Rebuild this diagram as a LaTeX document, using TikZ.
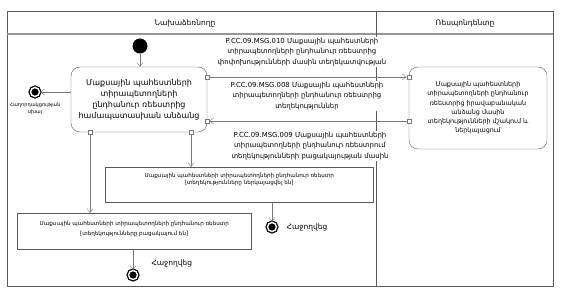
\documentclass[tikz,border=0pt]{standalone}
\usepackage{fontspec}
\setmainfont{DejaVu Sans}
\usetikzlibrary{arrows.meta,positioning}
\definecolor{lanegray}{RGB}{150,150,150}
\definecolor{flowgray}{RGB}{120,120,120}
\definecolor{boxgray}{RGB}{90,90,90}

\begin{document}
\begin{tikzpicture}[
  x=1pt, y=-1pt,
  actbox/.style={
    draw=boxgray, rounded corners=9pt, fill=white, align=center,
    inner sep=1pt, font=\fontsize{8}{11}\selectfont
  },
  statebox/.style={draw=boxgray, fill=white, anchor=north west, inner sep=0pt},
  statetext/.style={align=center, inner sep=0pt, anchor=north, font=\fontsize{5.6}{7.5}\selectfont},
  msg/.style={fill=white, align=center, inner sep=1pt, font=\fontsize{6.9}{10.5}\selectfont},
  port/.style={draw=flowgray, fill=white, minimum size=4pt, inner sep=0pt},
  initnode/.style={circle, fill=black, minimum size=15pt, inner sep=0pt},
  finalnode/.style={circle, fill=black, draw=black, double=white, double distance=1.4pt,
    line width=1.3pt, minimum size=9pt, inner sep=0pt},
  flow/.style={-{Straight Barb[length=4pt,width=6pt]}, flowgray, thin},
  lbl/.style={font=\fontsize{7.5}{9}\selectfont}
]
  \useasboundingbox (0,0) rectangle (564,296);

  % swimlanes
  \draw[boxgray, thin] (7,11) rectangle (553,286);
  \draw[lanegray, line width=1.5pt] (7,34) -- (553,34);
  \draw[boxgray, thin] (376,11) -- (376,286);
  \node[font=\fontsize{7.5}{9}\selectfont] (lanei) at (185,23) {Նախաձեռնողը};
  \node[font=\fontsize{7.5}{9}\selectfont] (laner) at (465,23) {Ռեսպոնդենտը};

  % activities
  \node[initnode] (init) at (140,46) {};
  \node[actbox, minimum width=136pt, minimum height=65pt] (main) at (139,99.5)
    {Մաքսային պահեստների\\ տիրապետողների\\ ընդհանուր ռեեստրից\\ համապատասխան անձանց};
  \node[actbox, minimum width=138pt, minimum height=82pt,
    font=\fontsize{6.4}{9.2}\selectfont] (resp) at (478,108)
    {Մաքսային պահեստների\\ տիրապետողների ընդհանուր\\ ռեեստրից իրավաբանական\\ անձանց մասին\\ տեղեկությունների մշակում և\\ ներկայացում};

  % end states
  \node[finalnode] (err) at (35,92) {};
  \node[below=2pt of err, align=center, font=\fontsize{5}{7.5}\selectfont] (errl) {Հաղորդակցության\\ սխալ};

  \node[statebox, minimum width=268pt, minimum height=35pt] (succ) at (105,167) {};
  \node[statetext, below=6pt of succ.north] (succt)
    {Մաքսային պահեստների տիրապետողների ընդհանուր ռեեստր\\ {[տեղեկությունները ներկայացվել են]}};
  \node[statebox, minimum width=234pt, minimum height=36pt] (fail) at (17,213) {};
  \node[statetext, below=8pt of fail.north, font=\fontsize{5.6}{10}\selectfont] (failt)
    {Մաքսային պահեստների տիրապետողների ընդհանուր ռեեստր\\ {[տեղեկությունները բացակայում են]}};

  \node[finalnode] (ends) at (272,227) {};
  \node[lbl, right=6pt of ends] (endsl) {Հաջողվեց};
  \node[finalnode] (endf) at (133,275) {};
  \node[lbl, anchor=west] (endfl) at (148,263) {Հաջողվեց};

  % ports
  \node[port] (p010a) at (main.east |- 0,77) {};
  \node[port] (p010b) at (resp.west |- 0,77) {};
  \node[port] (p008a) at (resp.west |- 0,121) {};
  \node[port] (p008b) at (main.east |- 0,121) {};
  \node[port] (pfail) at (90,132) {};
  \node[port] (psucc) at (191,132) {};

  % messages
  \draw[flow] (p010a) -- (p010b);
  \draw[flow] (p008a) -- (p008b);
  \node[msg] (m010) at (302,52) {P.CC.09.MSG.010 Մաքսային պահեստների\\ տիրապետողների ընդհանուր ռեեստրից\\ փոփոխությունների մասին տեղեկատվության};
  \node[msg] (m008) at (307,96) {P.CC.09.MSG.008 Մաքսային պահեստների\\ տիրապետողների ընդհանուր ռեեստրից\\ տեղեկություններ};
  \node[msg] (m009) at (310,146) {P.CC.09.MSG.009 Մաքսային պահեստների\\ տիրապետողների ընդհանուր ռեեստրում\\ տեղեկությունների բացակայության մասին};

  % control flow
  \draw[flow] (init) -- (init |- main.north);
  \draw[flow] (main.west |- err) -- (err);
  \draw[flow] (psucc) -- (psucc |- succ.north);
  \draw[flow] (pfail) -- (pfail |- fail.north);
  \draw[flow] (succ.south -| ends) -- (ends);
  \draw[flow] (fail.south -| endf) -- (endf);
\end{tikzpicture}
\end{document}
